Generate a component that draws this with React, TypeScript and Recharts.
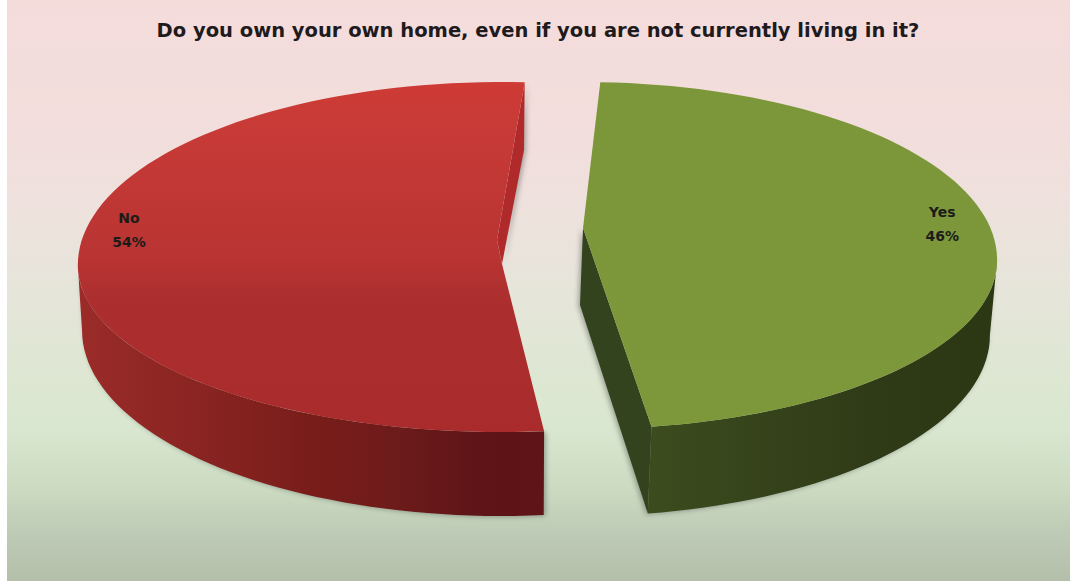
import React from 'react';
import { PieChart, Pie } from 'recharts';

const TITLE = 'Do you own your own home, even if you are not currently living in it?';
const categories = ['Yes', 'No'];
const shares = [46, 54];

const pieData = categories.map((name, i) => ({ name, value: shares[i] }));

const WIDTH = 1070;
const HEIGHT = 581;
const PIE_CX = 540;
const PIE_CY = 262;
const PIE_RADIUS = 420;
const FIRST_SLICE_DEG = 3; // clockwise from twelve o'clock
const FONT = '"DejaVu Sans", sans-serif';

type Stop = [number, string];
interface SliceView {
  id: string;
  // foreshortening of the slice's sweep on the tilted plate
  sweepScale: number;
  startOnRim: number;
  rim: { dx: number; dy: number; ax: number; up: number; down: number };
  floor: { dx: number; dy: number; ax: number; up: number; down: number };
  apex: [number, number];
  knee: [number, number];
  crease?: [number, number];
  cutTouchesFloor: boolean;
  cutFill: string;
  topStops: Stop[];
  wallStops: Stop[];
  wallSpan: [number, number];
  labelTurn: number;
  labelReach: number;
  shadowShift: number;
}

const views: Record<string, SliceView> = {
  Yes: {
    id: 'yes',
    sweepScale: 1.015,
    startOnRim: 2.4,
    rim: { dx: 43, dy: -2, ax: 0.986, up: 178, down: 169 },
    floor: { dx: 40, dy: 73, ax: 0.976, up: 181, down: 181 },
    apex: [43, -34],
    knee: [40, 43],
    cutTouchesFloor: true,
    cutFill: '#33431d',
    topStops: [[0, '#7b9739'], [1, '#7d983b']],
    wallStops: [[0, '#3c4c1e'], [0.3, '#36441b'], [0.65, '#2f3b17'], [1, '#2c3714']],
    wallSpan: [650, 990],
    labelTurn: -9.4,
    labelReach: 0.89,
    shadowShift: -2,
  },
  No: {
    id: 'no',
    sweepScale: 0.971,
    startOnRim: 174.3,
    rim: { dx: -38, dy: 3, ax: 1.01, up: 183, down: 167 },
    floor: { dx: -38, dy: 68, ax: 1, up: 186, down: 186 },
    apex: [-38, 2],
    knee: [-16, -112],
    crease: [-43, -22],
    cutTouchesFloor: false,
    cutFill: '#b02a2c',
    topStops: [[0, '#ce3a34'], [0.1, '#c93b37'], [0.5, '#b93433'], [0.62, '#ac2e2f'], [1, '#aa2b2b']],
    wallStops: [[0, '#9a2b29'], [0.3, '#862320'], [0.5, '#791d1a'], [0.68, '#6d1b1b'], [0.85, '#5e1517'], [1, '#5f1418']],
    wallSpan: [82, 544],
    labelTurn: 13.6,
    labelReach: 0.9,
    shadowShift: 2,
  },
};

const BACKGROUND =
  'linear-gradient(180deg, #f4dcdb 0px, #f2dedc 130px, #efe1dd 200px, #e6e5da 290px, #dde7d2 380px, #d9e7d0 430px, #cbdac1 490px, #bdcab5 535px, #b4bfaa 581px)';

const rimPoint = (e: SliceView['rim'], cx: number, cy: number, r: number, s: number, reach = 1) => {
  const rad = (s * Math.PI) / 180;
  const c = Math.cos(rad);
  return [
    cx + e.dx + r * e.ax * reach * Math.sin(rad),
    cy + e.dy - (c > 0 ? e.up : e.down) * reach * c,
  ];
};

const toRim = (view: SliceView, clockwiseDeg: number, base: number) =>
  view.startOnRim + (clockwiseDeg - base) * view.sweepScale;

const toPath = (pts: number[][]) =>
  pts.map((p, i) => `${i ? 'L' : 'M'}${p[0].toFixed(1)} ${p[1].toFixed(1)}`).join(' ') + ' Z';

const arcPoints = (from: number, to: number, f: (s: number) => number[]) => {
  const n = Math.max(2, Math.ceil(Math.abs(to - from) / 2));
  return Array.from({ length: n + 1 }, (_, i) => f(from + ((to - from) * i) / n));
};

// Draws one slice as a thick wedge on a tilted plate, from the angles the Pie computes.
const Slice3D = (props: any) => {
  const { cx, cy, outerRadius, startAngle, endAngle, name } = props;
  const view = views[name];
  const base = 90 - startAngle;
  const s0 = toRim(view, 90 - startAngle, base);
  const s1 = toRim(view, 90 - endAngle, base);
  const top = (s: number) => rimPoint(view.rim, cx, cy, outerRadius, s);
  const low = (s: number) => rimPoint(view.floor, cx, cy, outerRadius, s);
  const apex = [cx + view.apex[0], cy + view.apex[1]];
  const knee = [cx + view.knee[0], cy + view.knee[1]];

  const wallFrom = Math.max(s0, 90);
  const wallTo = Math.min(s1, 270);
  const wall = [...arcPoints(wallFrom, wallTo, top), ...arcPoints(wallTo, wallFrom, low)];
  const cut = view.cutTouchesFloor ? [top(s1), low(s1), knee, apex] : [top(s1), knee, apex];
  const creasePts = view.crease ? [[cx + view.crease[0], cy + view.crease[1]]] : [];
  const face = [apex, ...arcPoints(s0, s1, top), ...creasePts];
  const cutBack = view.crease ? [...cut, ...creasePts] : cut;

  return (
    <g>
      <defs>
        <linearGradient id={`top-${view.id}`} gradientUnits="userSpaceOnUse" x1="0" x2="0" y1={cy - 180} y2={cy + 170}>
          {view.topStops.map(([o, c]) => <stop key={o} offset={o} stopColor={c} />)}
        </linearGradient>
        <linearGradient id={`wall-${view.id}`} gradientUnits="userSpaceOnUse" x1={view.wallSpan[0]} x2={view.wallSpan[1]} y1="0" y2="0">
          {view.wallStops.map(([o, c]) => <stop key={o} offset={o} stopColor={c} />)}
        </linearGradient>
        <filter id={`soft-${view.id}`} x="-10%" y="-10%" width="120%" height="120%">
          <feGaussianBlur stdDeviation="2.5" />
        </filter>
      </defs>
      <g filter={`url(#soft-${view.id})`} opacity={0.45} transform={`translate(${view.shadowShift} 1)`}>
        <path d={toPath(wall)} fill="#4a4f48" />
        <path d={toPath(cut)} fill="#4a4f48" />
      </g>
      <path d={toPath(cutBack)} fill={view.cutFill} />
      <path d={toPath(wall)} fill={`url(#wall-${view.id})`} />
      <path d={toPath(face)} fill={`url(#top-${view.id})`} />
    </g>
  );
};

// Category name and share, stacked on the slice's plate.
const sliceLabel = (props: any) => {
  const { cx, cy, outerRadius, name, value } = props;
  const view = views[name];
  const mid = view.startOnRim + ((value / 100) * 360 * view.sweepScale) / 2;
  const [x, y] = rimPoint(view.rim, cx, cy, outerRadius, mid + view.labelTurn, view.labelReach);
  return (
    <text x={x} y={y} textAnchor="middle" fontFamily={FONT} fontSize={14} fontWeight={700} fill="#1c1c18">
      <tspan x={x} dy={-7}>{name}</tspan>
      <tspan x={x} dy={24}>{`${value}%`}</tspan>
    </text>
  );
};

export default function App() {
  return (
    <div style={{ position: 'absolute', left: 0, top: 0, width: WIDTH, height: HEIGHT, background: '#ffffff' }}>
      <div style={{ position: 'absolute', left: 7, top: 0, right: 0, bottom: 0, background: BACKGROUND }} />
      <div style={{ position: 'absolute', left: 0, top: 0 }}>
        <PieChart width={WIDTH} height={HEIGHT} margin={{ top: 0, right: 0, bottom: 0, left: 0 }}>
          <text x={538} y={37} textAnchor="middle" fontFamily={FONT} fontSize={19.5} fontWeight={700} fill="#1f1a1c">
            {TITLE}
          </text>
          <Pie
            data={pieData}
            dataKey="value"
            nameKey="name"
            cx={PIE_CX}
            cy={PIE_CY}
            outerRadius={PIE_RADIUS}
            startAngle={90 - FIRST_SLICE_DEG}
            endAngle={90 - FIRST_SLICE_DEG - 360}
            stroke="none"
            shape={Slice3D}
            label={sliceLabel}
            labelLine={false}
            isAnimationActive={false}
          />
        </PieChart>
      </div>
    </div>
  );
}
